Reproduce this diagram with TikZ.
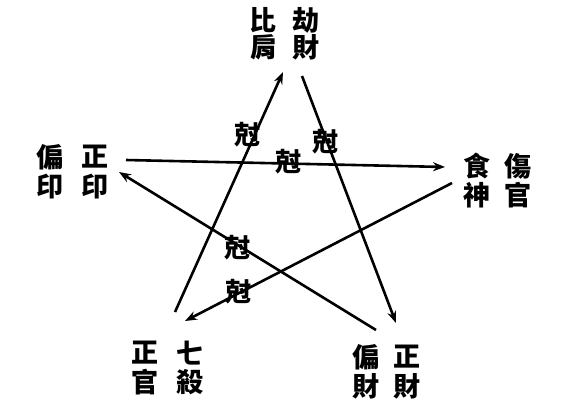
\documentclass[tikz,border=0pt]{standalone}
\usepackage{fontspec}
\newfontfamily\cjk{Noto Sans CJK TC}
\usetikzlibrary{arrows.meta}
\begin{document}
\begin{tikzpicture}[x=1pt,y=-1pt,
  ch/.style={inner sep=0pt,font=\cjk\bfseries\fontsize{27}{27}\selectfont},
  ke/.style={inner sep=0pt,font=\cjk\bfseries\fontsize{26}{26}\selectfont},
  arr/.style={line width=2.6pt,-{Stealth[length=12pt,width=9pt]}}]
\useasboundingbox (0,0) rectangle (580,410);
\fill[white] (0,0) rectangle (580,410);
% top group
\node[ch] (bi) at (263,20) {比};
\node[ch] (jie) at (306,20) {劫};
\node[ch] (jian) at (264,47) {肩};
\node[ch] (caiT) at (306,47) {財};
% left group
\node[ch] (pianL) at (50,157) {偏};
\node[ch] (zhengL) at (95,157) {正};
\node[ch] (yinA) at (50,187) {印};
\node[ch] (yinB) at (95,187) {印};
% right group
\node[ch] (shi) at (477,166) {食};
\node[ch] (shang) at (518,166) {傷};
\node[ch] (shen) at (477,195) {神};
\node[ch] (guanR) at (518,195) {官};
% bottom-left group
\node[ch] (zhengG) at (145,353) {正};
\node[ch] (qi) at (190,353) {七};
\node[ch] (guan) at (145,382) {官};
\node[ch] (sha) at (190,382) {殺};
% bottom-right group
\node[ch] (pianC) at (366,357) {偏};
\node[ch] (zhengC) at (407,357) {正};
\node[ch] (caiA) at (366,386) {財};
\node[ch] (caiB) at (407,386) {財};
% ke labels
\node[ke] (k1) at (247,135) {尅};
\node[ke] (k2) at (288,162) {尅};
\node[ke] (k3) at (325,142) {尅};
\node[ke] (k4) at (237,248) {尅};
\node[ke] (k5) at (238,292) {尅};
% arrow end points
\coordinate (gsS) at (175,312);
\coordinate (bjT) at (283,72);
\coordinate (bjS) at (302,76);
\coordinate (cT) at (396,323);
\coordinate (cS) at (376,330);
\coordinate (yT) at (119,172);
\coordinate (yS) at (126,160);
\coordinate (ssT) at (445,167);
\coordinate (ssS) at (452,183);
\coordinate (gsT) at (185,321);
% arrows
\draw[arr] (gsS) -- (bjT);
\draw[arr] (bjS) -- (cT);
\draw[arr] (cS) -- (yT);
\draw[arr] (yS) -- (ssT);
\draw[arr] (ssS) -- (gsT);
\end{tikzpicture}
\end{document}
